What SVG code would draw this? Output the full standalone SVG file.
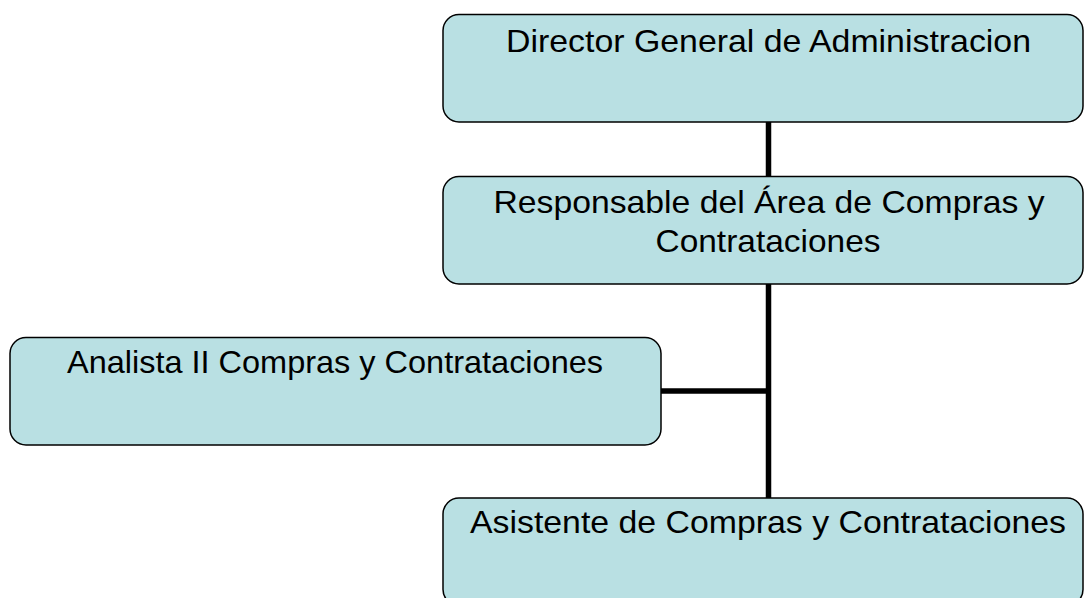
<svg xmlns="http://www.w3.org/2000/svg" width="1084" height="598" viewBox="0 0 1084 598">
<style>
.box{fill:#b9e0e3;stroke:#000;stroke-width:1.5}
.t{font-family:"Liberation Sans",Arial,sans-serif;font-size:31.5px;fill:#000;text-anchor:middle}
.c{stroke:#000;stroke-width:5.5;fill:none}
</style>
<rect width="1084" height="598" fill="#fff"/>
<g id="connectors">
<line class="c" x1="768.5" y1="122" x2="768.5" y2="177"/>
<line class="c" x1="768.5" y1="284" x2="768.5" y2="498"/>
<line class="c" x1="661" y1="391" x2="768.5" y2="391"/>
</g>
<g id="director">
<rect class="box" x="443" y="14.5" width="640" height="107.5" rx="16"/>
<text class="t" x="768.5" y="52" textLength="525" lengthAdjust="spacingAndGlyphs">Director General de Administracion</text>
</g>
<g id="responsable">
<rect class="box" x="443" y="176.5" width="640" height="107.5" rx="16"/>
<text class="t" x="769" y="213" textLength="551" lengthAdjust="spacingAndGlyphs">Responsable del Área de Compras y</text>
<text class="t" x="768" y="252" textLength="225" lengthAdjust="spacingAndGlyphs">Contrataciones</text>
</g>
<g id="analista">
<rect class="box" x="10" y="337.5" width="651" height="107.5" rx="16"/>
<text class="t" x="335" y="373" textLength="536" lengthAdjust="spacingAndGlyphs">Analista II Compras y Contrataciones</text>
</g>
<g id="asistente">
<rect class="box" x="443" y="498" width="640" height="107.5" rx="16"/>
<text class="t" x="768" y="533" textLength="596" lengthAdjust="spacingAndGlyphs">Asistente de Compras y Contrataciones</text>
</g>
</svg>
